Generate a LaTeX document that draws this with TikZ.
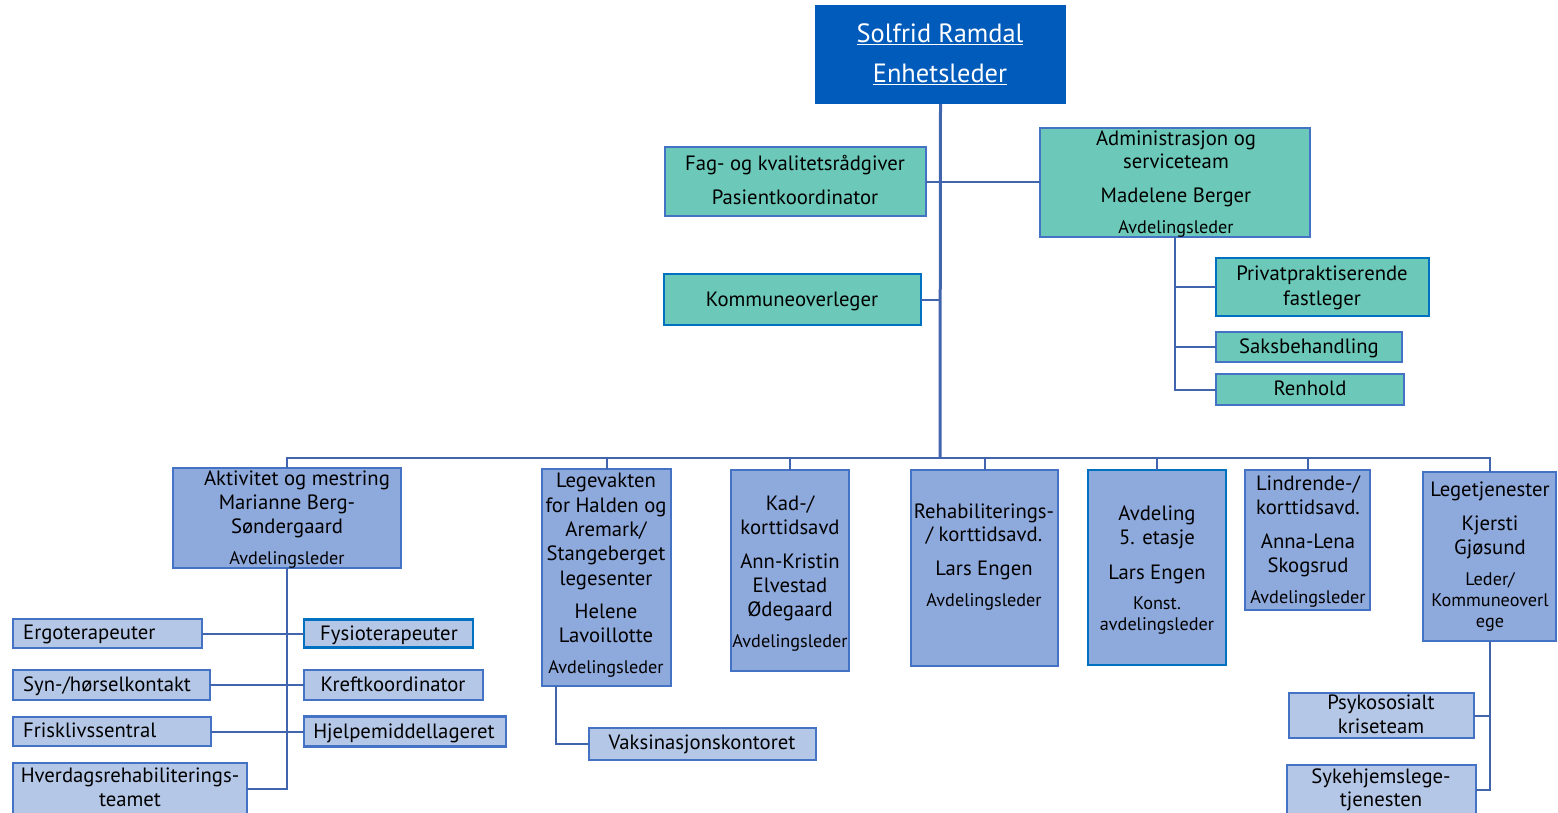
\documentclass[tikz,border=0pt]{standalone}
\usepackage{fontspec}
\setmainfont{PT Sans}
\usetikzlibrary{calc}
\definecolor{topblue}{RGB}{0,91,187}
\definecolor{tealfill}{RGB}{108,201,185}
\definecolor{bordblue}{RGB}{68,114,196}
\definecolor{darkbord}{RGB}{0,112,192}
\definecolor{deptfill}{RGB}{142,169,219}
\definecolor{subfill}{RGB}{180,199,231}
\definecolor{linecol}{RGB}{65,100,175}
\tikzset{
  box/.style={inner sep=0pt, outer sep=0pt, line width=2.5pt, draw=bordblue},
  topbox/.style={box, draw=none, fill=topblue},
  tealbox/.style={box, fill=tealfill},
  deptbox/.style={box, fill=deptfill},
  subbox/.style={box, fill=subfill},
  darkb/.style={draw=darkbord},
  conn/.style={draw=linecol, line width=2pt},
  mainconn/.style={draw=linecol, line width=3pt},
  tx/.style={inner sep=0pt, anchor=mid, yshift=-4pt, font=\fontsize{20.7}{24}\selectfont},
  txs/.style={inner sep=0pt, anchor=mid, yshift=-3pt, font=\fontsize{18.2}{21}\selectfont},
  txl/.style={inner sep=0pt, anchor=mid west, yshift=-4pt, font=\fontsize{20.7}{24}\selectfont},
  txtop/.style={inner sep=0pt, anchor=mid, yshift=-6pt, text=white, font=\fontsize{26.4}{30}\selectfont},
}
\begin{document}
\begin{tikzpicture}[x=1pt,y=-1pt]
\useasboundingbox (0,0) rectangle (1558,812);
% boxes
\node[topbox, minimum width=251, minimum height=99] (top) at (940.5,54.5) {};
\node[tealbox, minimum width=261, minimum height=69] (fag) at (795.5,181.5) {};
\node[tealbox, minimum width=270, minimum height=109] (admin) at (1175,182.5) {};
\node[tealbox, darkb, minimum width=257, minimum height=51] (komm) at (792.5,299.5) {};
\node[tealbox, darkb, minimum width=213, minimum height=58] (priv) at (1322.5,287) {};
\node[tealbox, minimum width=186, minimum height=30] (saks) at (1309,347) {};
\node[tealbox, minimum width=188, minimum height=31] (renh) at (1310,389.5) {};

\node[deptbox, minimum width=228, minimum height=100] (akt) at (287,518) {};
\node[deptbox, minimum width=129, minimum height=217] (leg) at (606.5,577.5) {};
\node[deptbox, minimum width=118, minimum height=201] (kad) at (790,570.5) {};
\node[deptbox, minimum width=147, minimum height=196] (reh) at (984.5,568) {};
\node[deptbox, darkb, minimum width=138, minimum height=195] (avd) at (1157,567.5) {};
\node[deptbox, minimum width=125, minimum height=140] (lin) at (1307.5,540) {};
\node[deptbox, minimum width=133, minimum height=169] (lgt) at (1489.5,556.5) {};

\node[subbox, minimum width=189, minimum height=29] (ergo) at (107.5,633.5) {};
\node[subbox, darkb, minimum width=169, minimum height=28] (fys) at (388.5,633.5) {};
\node[subbox, minimum width=197, minimum height=30] (syn) at (111.5,685) {};
\node[subbox, minimum width=179, minimum height=30] (kreft) at (393.5,685) {};
\node[subbox, minimum width=198, minimum height=29] (frisk) at (112,731.5) {};
\node[subbox, minimum width=202, minimum height=30] (hjelp) at (405,731.5) {};
\node[subbox, minimum width=234, minimum height=51] (hver) at (130,788.5) {};
\node[subbox, minimum width=227, minimum height=32] (vaks) at (702.5,744) {};
\node[subbox, minimum width=185, minimum height=45] (psy) at (1381.5,715.5) {};
\node[subbox, minimum width=189, minimum height=49] (syk) at (1381.5,789.5) {};

% connectors
\coordinate (bus) at (940,458);
\draw[mainconn] (top.south) -- (bus);
\draw[conn] (fag.east) -- (admin.west |- fag.east);
\draw[conn] (komm.east) -- (komm.east -| top.south);
\draw[conn] (admin.south) |- (renh.west);
\draw[conn] (admin.south |- priv.west) -- (priv.west);
\draw[conn] (admin.south |- saks.west) -- (saks.west);
\draw[conn] (akt.north) |- (bus) -| (lgt.north);
\foreach \n in {leg,kad,reh,avd,lin} \draw[conn] (\n.north) -- (\n.north |- bus);
\draw[conn] (akt.south) |- (hver.east);
\draw[conn] (ergo.east) -- (fys.west);
\draw[conn] (syn.east) -- (kreft.west);
\draw[conn] (frisk.east) -- (hjelp.west);
\coordinate (legdrop) at ($(leg.south west)+(14,0)$);
\draw[conn] (legdrop) |- (vaks.west);
\draw[conn] (lgt.south) |- (syk.east);
\draw[conn] (psy.east) -- (psy.east -| lgt.south);

% texts
\node[txtop] at (940,34) {\underline{Solfrid Ramdal}};
\node[txtop] at (940,74) {\underline{Enhetsleder}};

\node[tx] at (795,164) {Fag- og kvalitetsrådgiver};
\node[tx] at (795,198) {Pasientkoordinator};
\node[tx] at (1176,139) {Administrasjon og};
\node[tx] at (1176,162) {serviceteam};
\node[tx] at (1176,196) {Madelene Berger};
\node[txs] at (1176,228) {Avdelingsleder};
\node[tx] at (792,300) {Kommuneoverleger};
\node[tx] at (1322,274) {Privatpraktiserende};
\node[tx] at (1322,299) {fastleger};
\node[tx] at (1309,347) {Saksbehandling};
\node[tx] at (1310,389) {Renhold};

\node[tx] at (297,479) {Aktivitet og mestring};
\node[tx] at (287,503) {Marianne Berg-};
\node[tx] at (287,527) {Søndergaard};
\node[txs] at (287,559) {Avdelingsleder};

\node[tx] at (606,481) {Legevakten};
\node[tx] at (606,506) {for Halden og};
\node[tx] at (606,530) {Aremark/};
\node[tx] at (606,554) {Stangeberget};
\node[tx] at (606,579) {legesenter};
\node[tx] at (606,612) {Helene};
\node[tx] at (606,636) {Lavoillotte};
\node[txs] at (606,668) {Avdelingsleder};

\node[tx] at (790,504) {Kad-/};
\node[tx] at (790,528) {korttidsavd};
\node[tx] at (790,562) {Ann-Kristin};
\node[tx] at (790,586) {Elvestad};
\node[tx] at (790,610) {Ødegaard};
\node[txs] at (790,642) {Avdelingsleder};

\node[tx] at (984,512) {Rehabiliterings-};
\node[tx] at (984,535) {/ korttidsavd.};
\node[tx] at (984,569) {Lars Engen};
\node[txs] at (984,601) {Avdelingsleder};

\node[tx] at (1157,514) {Avdeling};
\node[tx] at (1157,538) {5. etasje};
\node[tx] at (1157,573) {Lars Engen};
\node[txs] at (1157,604) {Konst.};
\node[txs] at (1157,625) {avdelingsleder};

\node[tx] at (1308,484) {Lindrende-/};
\node[tx] at (1308,508) {korttidsavd.};
\node[tx] at (1308,542) {Anna-Lena};
\node[tx] at (1308,566) {Skogsrud};
\node[txs] at (1308,598) {Avdelingsleder};

\node[tx] at (1490,490) {Legetjenester};
\node[tx] at (1490,524) {Kjersti};
\node[tx] at (1490,548) {Gjøsund};
\node[txs] at (1490,580) {Leder/};
\node[txs] at (1490,601) {Kommuneoverl};
\node[txs] at (1490,622) {ege};

\node[txl] at (23,633) {Ergoterapeuter};
\node[tx] at (389,634) {Fysioterapeuter};
\node[txl] at (23,685) {Syn-/hørselkontakt};
\node[tx] at (393,685) {Kreftkoordinator};
\node[txl] at (23,731) {Frisklivssentral};
\node[tx] at (404,732) {Hjelpemiddellageret};
\node[tx] at (130,776) {Hverdagsrehabiliterings-};
\node[tx] at (130,800) {teamet};
\node[tx] at (702,743) {Vaksinasjonskontoret};
\node[tx] at (1381,703) {Psykososialt};
\node[tx] at (1381,727) {kriseteam};
\node[tx] at (1381,777) {Sykehjemslege-};
\node[tx] at (1381,800) {tjenesten};
\end{tikzpicture}
\end{document}
